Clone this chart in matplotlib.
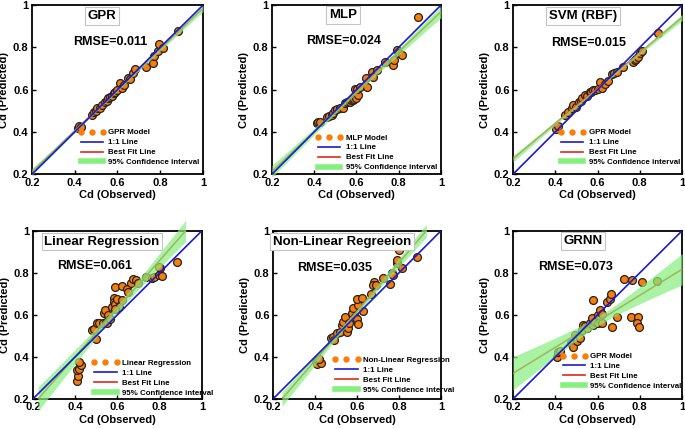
import matplotlib as mpl
import matplotlib.pyplot as plt
import numpy as np
from matplotlib.lines import Line2D

mpl.rcParams['font.family'] = ['Liberation Sans', 'DejaVu Sans']
mpl.rcParams['font.weight'] = 'bold'
mpl.rcParams['axes.labelweight'] = 'bold'
mpl.rcParams['axes.labelsize'] = 8
mpl.rcParams['xtick.labelsize'] = 8
mpl.rcParams['ytick.labelsize'] = 8
mpl.rcParams['xtick.direction'] = 'in'
mpl.rcParams['ytick.direction'] = 'in'
mpl.rcParams['axes.linewidth'] = 1.3

# observed / predicted Cd
gpr_obs = [0.415, 0.42, 0.43, 0.48, 0.49, 0.50, 0.504, 0.52, 0.527, 0.54, 0.55, 0.556, 0.565, 0.574, 0.584,
           0.59, 0.598, 0.61, 0.62, 0.63, 0.65, 0.66, 0.672, 0.68, 0.733, 0.766, 0.77, 0.79, 0.794, 0.813, 0.883]
gpr_pred = [0.418, 0.43, 0.425, 0.48, 0.493, 0.50, 0.512, 0.515, 0.527, 0.54, 0.545, 0.56, 0.565, 0.57, 0.583,
            0.59, 0.598, 0.63, 0.607, 0.62, 0.655, 0.65, 0.678, 0.70, 0.706, 0.725, 0.76, 0.782, 0.815, 0.796, 0.877]

mlp_obs = [0.413, 0.42, 0.427, 0.46, 0.47, 0.484, 0.49, 0.50, 0.51, 0.52, 0.536, 0.545, 0.555, 0.569, 0.575,
           0.583, 0.59, 0.60, 0.607, 0.593, 0.603, 0.617, 0.65, 0.645, 0.673, 0.678, 0.697, 0.735, 0.773, 0.78,
           0.79, 0.80, 0.815, 0.89]
mlp_pred = [0.44, 0.445, 0.447, 0.47, 0.475, 0.48, 0.49, 0.503, 0.51, 0.512, 0.512, 0.535, 0.54, 0.54, 0.55,
            0.55, 0.555, 0.56, 0.574, 0.602, 0.605, 0.612, 0.612, 0.655, 0.683, 0.66, 0.692, 0.73, 0.716, 0.74,
            0.79, 0.775, 0.763, 0.943]

svm_obs = [0.405, 0.413, 0.446, 0.46, 0.48, 0.485, 0.50, 0.51, 0.52, 0.527, 0.54, 0.55, 0.565, 0.57, 0.58,
           0.61, 0.59, 0.60, 0.62, 0.635, 0.65, 0.668, 0.68, 0.69, 0.72, 0.768, 0.775, 0.78, 0.79, 0.80, 0.81, 0.886]
svm_pred = [0.415, 0.427, 0.48, 0.493, 0.512, 0.527, 0.52, 0.54, 0.545, 0.56, 0.574, 0.57, 0.588, 0.59, 0.598,
            0.636, 0.60, 0.605, 0.61, 0.625, 0.64, 0.672, 0.68, 0.685, 0.707, 0.73, 0.74, 0.744, 0.754, 0.773,
            0.785, 0.868]

lr_obs = [0.41, 0.413, 0.41, 0.42, 0.427, 0.42, 0.48, 0.49, 0.50, 0.505, 0.515, 0.53, 0.545, 0.55, 0.536,
          0.54, 0.555, 0.565, 0.574, 0.583, 0.583, 0.59, 0.60, 0.61, 0.62, 0.59, 0.588, 0.62, 0.645, 0.65,
          0.664, 0.673, 0.69, 0.70, 0.735, 0.763, 0.773, 0.796, 0.81, 0.80, 0.796, 0.88]
lr_pred = [0.286, 0.31, 0.338, 0.343, 0.362, 0.375, 0.53, 0.533, 0.486, 0.56, 0.562, 0.562, 0.565, 0.562, 0.61,
           0.624, 0.60, 0.58, 0.638, 0.68, 0.662, 0.65, 0.676, 0.638, 0.67, 0.628, 0.733, 0.738, 0.724, 0.71,
           0.75, 0.77, 0.767, 0.75, 0.78, 0.776, 0.78, 0.79, 0.787, 0.825, 0.83, 0.85]

nlr_obs = [0.405, 0.41, 0.414, 0.43, 0.42, 0.476, 0.486, 0.49, 0.505, 0.52, 0.528, 0.533, 0.543, 0.552, 0.557,
           0.56, 0.576, 0.58, 0.59, 0.60, 0.605, 0.605, 0.60, 0.624, 0.63, 0.667, 0.681, 0.676, 0.69, 0.724,
           0.757, 0.767, 0.77, 0.79, 0.79, 0.80, 0.814, 0.886]
nlr_pred = [0.38, 0.366, 0.386, 0.372, 0.39, 0.49, 0.495, 0.48, 0.514, 0.52, 0.552, 0.567, 0.59, 0.52, 0.538,
            0.56, 0.61, 0.633, 0.59, 0.58, 0.557, 0.648, 0.676, 0.68, 0.62, 0.70, 0.757, 0.743, 0.74, 0.776,
            0.748, 0.80, 0.79, 0.848, 0.862, 0.91, 0.824, 0.876]

grnn_obs = [0.408, 0.413, 0.42, 0.475, 0.486, 0.494, 0.503, 0.517, 0.527, 0.53, 0.54, 0.55, 0.565, 0.574, 0.58,
            0.58, 0.59, 0.60, 0.60, 0.61, 0.62, 0.62, 0.645, 0.66, 0.664, 0.668, 0.69, 0.725, 0.764, 0.76,
            0.79, 0.786, 0.796, 0.81, 0.88]
grnn_pred = [0.40, 0.424, 0.43, 0.467, 0.448, 0.505, 0.476, 0.49, 0.53, 0.552, 0.545, 0.538, 0.562, 0.586, 0.55,
             0.67, 0.567, 0.562, 0.60, 0.624, 0.605, 0.56, 0.662, 0.676, 0.70, 0.543, 0.59, 0.771, 0.767, 0.59,
             0.59, 0.562, 0.543, 0.757, 0.762]

titles = ['GPR', 'MLP', 'SVM (RBF)', 'Linear Regression', 'Non-Linear Regreeion', 'GRNN']
rmse_labels = ['RMSE=0.011', 'RMSE=0.024', 'RMSE=0.015', 'RMSE=0.061', 'RMSE=0.035', 'RMSE=0.073']
model_labels = ['GPR Model', 'MLP Model', 'GPR Model', 'Linear Regression', 'Non-Linear Regression', 'GPR Model']
other_labels = ['1:1 Line', 'Best Fit Line', '95% Confidence interval']
tick_vals = [0.2, 0.4, 0.6, 0.8, 1.0]
tick_text = ['0.2', '0.4', '0.6', '0.8', '1']

obs_all = [gpr_obs, mlp_obs, svm_obs, lr_obs, nlr_obs, grnn_obs]
pred_all = [gpr_pred, mlp_pred, svm_pred, lr_pred, nlr_pred, grnn_pred]

# layout (figure fractions) and text spots per panel
ax_rects = [[0.0467, 0.594, 0.2496, 0.394], [0.397, 0.594, 0.2467, 0.394], [0.749, 0.594, 0.2467, 0.394],
            [0.048, 0.070, 0.2467, 0.392], [0.3985, 0.070, 0.2453, 0.392], [0.749, 0.070, 0.2467, 0.392]]
title_xy = [(0.526, 0.948), (0.536, 0.953), (0.531, 0.948), (0.527, 0.948), (0.529, 0.948), (0.531, 0.952)]
rmse_xy = [(0.565, 0.826), (0.541, 0.831), (0.56, 0.82), (0.493, 0.833), (0.495, 0.824), (0.498, 0.829)]
legend_xy = [(0.27, 0.077), (0.26, 0.047), (0.27, 0.077), (0.35, 0.042), (0.357, 0.06), (0.28, 0.083)]

orange = '#fa7d0a'
blue = '#1a1ad2'
red = '#e0281a'
green = '#86ef7e'


def fit_with_ci(x, y):
    x = np.asarray(x)
    y = np.asarray(y)
    n = len(x)
    b, a = np.polyfit(x, y, 1)
    s = np.sqrt(np.sum((y - (a + b * x)) ** 2) / (n - 2))
    sxx = np.sum((x - x.mean()) ** 2)
    lo = max(0.2, (0.2 - a) / b)
    hi = min(1.0, (1.0 - a) / b)
    xs = np.linspace(lo, hi, 100)
    ys = a + b * xs
    half = 2.03 * s * np.sqrt(1.0 / n + (xs - x.mean()) ** 2 / sxx)
    return xs, ys, half


fig = plt.figure(figsize=(6.85, 4.29), dpi=100)

for i in range(6):
    ax = fig.add_axes(ax_rects[i])
    x = obs_all[i]
    y = pred_all[i]

    ax.scatter(x, y, s=32, c=orange, edgecolors='#222222', linewidths=0.9, zorder=2)
    ax.plot([0.2, 1.0], [0.2, 1.0], color=blue, lw=1.2, zorder=5)
    xs, ys, half = fit_with_ci(x, y)
    ax.plot(xs, ys, color=red, lw=1.1, zorder=3)
    ax.fill_between(xs, ys - half, ys + half, color=green, alpha=0.7, lw=0, zorder=4, clip_on=False)

    ax.set_xlim(0.2, 1.0)
    ax.set_ylim(0.2, 1.0)
    ax.set_xticks(tick_vals)
    ax.set_xticklabels(tick_text)
    ax.set_yticks(tick_vals)
    ax.set_yticklabels(tick_text)
    ax.tick_params(length=3, width=1, pad=2.5)
    ax.set_xlabel('Cd (Observed)', labelpad=1.5)
    ax.set_ylabel('Cd (Predicted)', labelpad=3)

    ax.text(title_xy[i][0], title_xy[i][1], titles[i], ha='center', va='center', fontsize=9.5,
            bbox=dict(boxstyle='square,pad=0.2', fc='white', ec='#c4c4c4', lw=0.8), zorder=6)
    ax.text(rmse_xy[i][0], rmse_xy[i][1], rmse_labels[i], ha='center', va='center', fontsize=9,
            zorder=6)

    handles = [Line2D([], [], ls='', marker='o', color=orange, mec='none', ms=4.6),
               Line2D([], [], color=blue, lw=1.2),
               Line2D([], [], color=red, lw=1.2),
               Line2D([], [], color=green, lw=4)]
    labels = [model_labels[i]] + other_labels
    lx, ly = legend_xy[i]
    ax.legend(handles, labels, loc='lower left', bbox_to_anchor=(lx, ly - 0.03), frameon=False,
              fontsize=5.7, numpoints=3, handlelength=3.4, handletextpad=0.4, labelspacing=0.3,
              borderpad=0, borderaxespad=0)

plt.savefig('out.png', dpi=100)
